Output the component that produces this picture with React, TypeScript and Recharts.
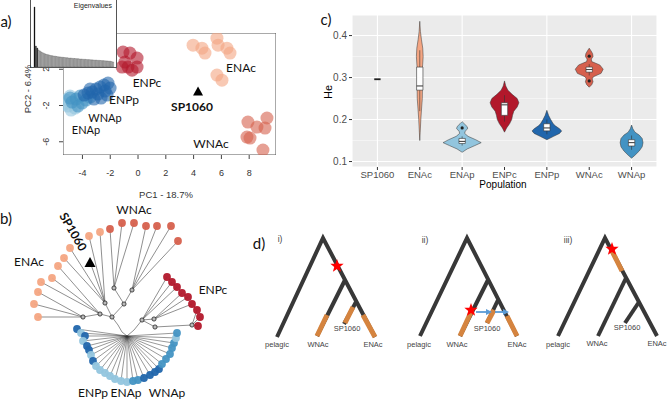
import React from "react";
import { Bar, BarChart, CartesianGrid, Cell, Scatter, ScatterChart, XAxis, YAxis } from "recharts";

type Pt = { x: number; y: number };
const pts = (a: number[][]): Pt[] => a.map(([x, y]) => ({ x, y }));

/* ---------- a) PCA ---------- */
const pcaEnac = [[3.96, 4.66], [4.6, 4.33], [4.82, 3.78], [5.68, 5.43], [5.76, 4.66], [6.4, 4.33], [6.62, 3.78], [5.68, 1.36], [6.04, 0.8]];
const pcaWnac = [[7.91, -3.83], [8.56, -4.38], [9.28, -3.38], [9.14, -4.49], [7.84, -5.48], [8.06, -5.59], [8.99, -6.91]];
const pcaEnpc = [[-1.08, 3.89], [-0.58, 3.78], [-0.07, 3.23], [-0.94, 2.79], [-0.72, 2.24], [-0.07, 2.24], [-1.15, 2.24], [-0.43, 1.9]];
const pcaEnap = [[-5.18, -1.4], [-5.04, -2.06], [-4.82, -2.5], [-4.53, -2.28], [-5.32, -1.84], [-4.89, -0.96]];
const pcaWnap = [[-4.17, -0.96], [-4.46, -1.29], [-3.74, -1.4], [-4.75, -1.62], [-4.03, -1.73], [-4.32, -2.06], [-3.45, -1.07], [-4.89, -1.18]];
const pcaEnpp = [[-2.16, 0.47], [-2.45, 0.25], [-2.01, -0.08], [-2.73, 0.03], [-3.02, -0.19], [-2.37, -0.41], [-3.31, -0.52], [-2.88, -0.74], [-3.6, -0.63], [-3.88, -0.85], [-2.66, -1.18], [-3.17, -1.29], [-3.45, -0.19], [-2.23, -0.85]];
const pcaSp1060 = [[4.32, -0.4]];
const pc1Ticks = [-4, -2, 0, 2, 4, 6, 8];
const pc2Ticks = [-6, -4, -2, 0, 2];
const pc1Domain = [-5.4, 9.93];
const pc2Domain = [-7.46, 6.0];
const eigenvalues = [60, 21, 19, 17, 16, 15, 14.2, 13.6, 13, 12.6, 12.2, 11.8, 11.5, 11.2, 11, 10.8, 10.5, 10.3, 10.1, 10, 9.8, 9.6, 9.5, 9.3, 9.2, 9, 8.9, 8.8, 8.6, 8.5, 8.4, 8.3, 8.2, 8, 7.9, 7.8, 7.7, 7.6, 7.5, 7.4, 7.3, 7.2, 7.1, 7, 6.9, 6.8, 6.7, 6.6, 6.5, 6.4, 6.3, 6.2, 6.1, 6, 5.9, 5.7, 5.4, 5];

/* ---------- b) tree ---------- */
const treeRoot = [127, 336];
const leafEnac = [[38, 317], [34, 304], [38, 292], [41, 282], [52, 278], [58, 266], [64, 258], [70, 248], [89, 236], [100, 232]];
const leafWnac = [[110, 229], [122, 223], [134, 223], [146, 226], [157, 226], [171, 226], [178, 241]];
const leafEnpc = [[167, 277], [172, 282], [177, 287], [182, 293], [188, 297], [192, 304], [197, 310], [200, 317], [198, 326]];
const leafPelagic = [[77, 329], [81, 333], [85, 336], [83, 341], [87, 346], [89, 350], [91, 355], [93, 361], [96, 366], [100, 370], [105, 373], [110, 376], [115, 379], [121, 381], [127, 382], [133, 381], [138, 380], [144, 378], [150, 375], [155, 372], [159, 369], [162, 364], [166, 359], [170, 354], [172, 348], [174, 343], [176, 338], [177, 333]];
const pelagicGroup = ["d", "l", "d", "l", "d", "d", "l", "d", "l", "l", "l", "l", "l", "l", "l", "m", "m", "d", "d", "d", "d", "m", "m", "m", "m", "m", "l", "m"];
const treeNodes = [[83, 317], [100, 314], [105, 303], [112, 317], [124, 304], [114, 288], [132, 290], [142, 320], [154, 319], [155, 327], [192, 325]];
const treeInner = [
  [[127, 336], [122, 332], [118, 325], [112, 317]],
  [[112, 317], [100, 314]],
  [[100, 314], [83, 317]],
  [[112, 317], [105, 303]],
  [[112, 317], [124, 304]],
  [[124, 304], [114, 288]],
  [[124, 304], [132, 290]],
  [[127, 336], [134, 330], [142, 320]],
  [[142, 320], [154, 319]],
  [[142, 320], [155, 327]],
  [[155, 327], [192, 325]],
];
const enacParent = [0, 0, 0, 1, 1, 1, 2, 2, 2, 2];
const wnacParent = [5, 5, 5, 6, 6, 6, 6];
const enpcParent = [7, 7, 7, 8, 8, 8, 10, 10, 10];
const treeSp1060 = [[90, 262]];

/* ---------- c) violins ---------- */
const populations = ["SP1060", "ENAc", "ENAp", "ENPc", "ENPp", "WNAc", "WNAp"];
const heTicks = [0.1, 0.2, 0.3, 0.4];
const heMinor = [0.15, 0.25, 0.35];
const enacHe = [0.15, 0.17, 0.2, 0.23, 0.25, 0.27, 0.29, 0.31, 0.33, 0.35, 0.37, 0.39, 0.41, 0.434];
const enacW = [0, 0.01, 0.025, 0.045, 0.06, 0.062, 0.05, 0.048, 0.068, 0.08, 0.07, 0.04, 0.015, 0];
const enapHe = [0.122, 0.13, 0.138, 0.145, 0.152, 0.16, 0.167, 0.172, 0.178, 0.183, 0.19, 0.195];
const enapW = [0, 0.12, 0.3, 0.45, 0.32, 0.14, 0.06, 0.07, 0.13, 0.12, 0.05, 0];
const enpcHe = [0.17, 0.18, 0.19, 0.2, 0.21, 0.22, 0.23, 0.24, 0.25, 0.26, 0.27, 0.28, 0.292];
const enpcW = [0, 0.05, 0.12, 0.17, 0.19, 0.22, 0.3, 0.34, 0.3, 0.18, 0.08, 0.03, 0];
const enppHe = [0.152, 0.16, 0.167, 0.173, 0.178, 0.185, 0.19, 0.2, 0.21, 0.222];
const enppW = [0, 0.16, 0.3, 0.35, 0.3, 0.2, 0.15, 0.09, 0.04, 0];
const wnacHe = [0.277, 0.283, 0.29, 0.297, 0.302, 0.31, 0.32, 0.33, 0.338, 0.344, 0.35, 0.357, 0.364, 0.37];
const wnacW = [0, 0.06, 0.09, 0.07, 0.1, 0.28, 0.33, 0.25, 0.06, 0.05, 0.09, 0.08, 0.04, 0];
const wnapHe = [0.108, 0.115, 0.125, 0.135, 0.145, 0.155, 0.163, 0.17, 0.178, 0.187];
const wnapW = [0, 0.08, 0.18, 0.25, 0.27, 0.25, 0.18, 0.08, 0.03, 0];
const boxQ1 = [0.296, 0.27, 0.143, 0.21, 0.173, 0.313, 0.137];
const boxMedian = [0.296, 0.28, 0.148, 0.235, 0.18, 0.319, 0.145];
const boxQ3 = [0.296, 0.325, 0.155, 0.24, 0.19, 0.325, 0.152];
const whiskerLo = [0.296, 0.22, 0.138, 0.195, 0.165, 0.305, 0.128];
const whiskerHi = [0.296, 0.365, 0.16, 0.258, 0.2, 0.332, 0.162];
const heOutliers = [[3, 0.18], [6, 0.351], [6, 0.292]];

/* ---------- d) scenarios ---------- */
const cladeDark = [
  [[277, 337], [323, 238], [375, 337]], [[345, 280], [317, 336]], [[356, 302], [344, 324]],
  [[420, 336], [467, 238], [517, 336]], [[488, 280], [460, 336]], [[498, 300], [487, 323]],
  [[558, 336], [605, 238], [657, 336]], [[626, 278], [598, 336]], [[639, 302], [625, 323]],
];
const cladeOrange = [
  [[327, 315], [317, 336]], [[353, 307], [345, 323]], [[363, 315], [375, 337]],
  [[472, 310], [460, 336]], [[494, 310], [487, 323]], [[507, 316], [517, 336]],
  [[612, 251], [622, 271]],
];
const cladeStars = [[337, 266], [471, 310], [612, 249]];
const migrationArrows = [[[476, 312], [489, 312]], [[495, 312], [506, 312]]];

const RED = "#b2182b", DARKBLUE = "#2166ac", MIDBLUE = "#4393c3", LIGHTBLUE = "#92c5de";
const LIGHTORANGE = "#f4a582", ORANGERED = "#d6604d";
const pelagicColor: Record<string, string> = { d: DARKBLUE, m: MIDBLUE, l: LIGHTBLUE };

const noDot = () => <g />;

function polylines(lines: number[][][], stroke: string, width: number, key: string, fill = "none") {
  return lines.map((l, i) => (
    <Scatter
      key={key + i}
      data={pts(l)}
      line={{ stroke, strokeWidth: width, fill }}
      shape={noDot}
      isAnimationActive={false}
    />
  ));
}

const circleShape = (r: number, fill: string, opacity: number) => (p: any) => (
  <circle cx={p.cx} cy={p.cy} r={r} fill={fill} fillOpacity={opacity} />
);

const triangleShape = (w: number, h: number) => (p: any) => (
  <polygon
    points={`${p.cx - w / 2},${p.cy + h / 2} ${p.cx + w / 2},${p.cy + h / 2} ${p.cx},${p.cy - h / 2}`}
    fill="#000"
  />
);

const starShape = (p: any) => {
  const c: string[] = [];
  for (let k = 0; k < 10; k++) {
    const r = k % 2 ? 2.9 : 7;
    const a = -Math.PI / 2 + (k * Math.PI) / 5;
    c.push(`${p.cx + r * Math.cos(a)},${p.cy + r * Math.sin(a)}`);
  }
  return <polygon points={c.join(" ")} fill="#ff0000" />;
};

const arrowHead = (p: any) => (
  <polygon points={`${p.cx + 3},${p.cy} ${p.cx - 3},${p.cy - 3} ${p.cx - 3},${p.cy + 3}`} fill="#5b9bd5" />
);

function Txt(props: {
  x: number; y: number; children: React.ReactNode; size?: number; color?: string;
  font?: string; weight?: number; rotate?: number;
}) {
  const { x, y, children, size = 12, color = "#111", font = "Lato", weight = 400, rotate = 0 } = props;
  return (
    <div
      style={{
        position: "absolute", left: x, top: y, transform: `translate(-50%, -50%) rotate(${rotate}deg)`,
        fontSize: size, color, fontFamily: font, fontWeight: weight, whiteSpace: "nowrap", lineHeight: 1,
      }}
    >
      {children}
    </div>
  );
}

function violinOutline(center: number, he: number[], w: number[]): Pt[] {
  const right = he.map((h, i) => ({ x: center + w[i], y: h }));
  const left = he.map((h, i) => ({ x: center - w[i], y: h })).reverse();
  return [...right, ...left];
}

const violins = [
  { center: 2, he: enacHe, w: enacW, fill: LIGHTORANGE },
  { center: 3, he: enapHe, w: enapW, fill: LIGHTBLUE },
  { center: 4, he: enpcHe, w: enpcW, fill: RED },
  { center: 5, he: enppHe, w: enppW, fill: DARKBLUE },
  { center: 6, he: wnacHe, w: wnacW, fill: ORANGERED },
  { center: 7, he: wnapHe, w: wnapW, fill: MIDBLUE },
];

const PcaYTick = ({ x, y, payload }: any) => {
  const bx = x - 7.5;
  return (
    <text x={bx} y={y} transform={`rotate(-90 ${bx} ${y})`} textAnchor="middle" fontSize={9}
      fill="#333" fontFamily="Liberation Sans">
      {payload.value === -4 ? "" : payload.value}
    </text>
  );
};

function PanelA() {
  const box = [
    [pc1Domain[0], pc2Domain[1]], [pc1Domain[1], pc2Domain[1]], [pc1Domain[1], pc2Domain[0]],
    [pc1Domain[0], pc2Domain[0]], [pc1Domain[0], pc2Domain[1]],
  ];
  const groups: [number[][], string][] = [
    [pcaEnap, LIGHTBLUE], [pcaWnap, MIDBLUE], [pcaEnpp, DARKBLUE],
    [pcaEnpc, RED], [pcaEnac, LIGHTORANGE], [pcaWnac, ORANGERED],
  ];
  return (
    <div style={{ position: "absolute", left: 0, top: 0 }}>
      <ScatterChart width={290} height={200} margin={{ top: 33, right: 14, bottom: 15, left: 38 }}>
        <XAxis type="number" dataKey="x" domain={pc1Domain} ticks={pc1Ticks} allowDataOverflow
          height={30} tickSize={4} tickMargin={11} axisLine={false} tickLine={{ stroke: "#444" }}
          tick={{ fontSize: 9, fill: "#333", fontFamily: "Liberation Sans" }} />
        <YAxis type="number" dataKey="y" domain={pc2Domain} ticks={pc2Ticks} allowDataOverflow
          width={25} tickSize={4} tickMargin={2} axisLine={false} tickLine={{ stroke: "#444" }}
          tick={<PcaYTick />} />
        {polylines([box], "#555", 1, "box")}
        {groups.map(([g, c], i) => (
          <Scatter key={"g" + i} data={pts(g)} shape={circleShape(6.5, c, 0.6)} isAnimationActive={false} />
        ))}
        <Scatter data={pts(pcaSp1060)} shape={triangleShape(10, 9)} isAnimationActive={false} />
      </ScatterChart>
    </div>
  );
}

function Inset() {
  const data = eigenvalues.map((v, i) => ({ k: i + 1, v }));
  return (
    <div style={{ position: "absolute", left: 30, top: -1, width: 87, height: 69, border: "1px solid #555",
      background: "#fff", boxSizing: "border-box" }}>
      <BarChart width={85} height={67} data={data} barCategoryGap={0}
        margin={{ top: 7, right: 2, bottom: 0, left: 3 }}>
        <XAxis dataKey="k" hide />
        <YAxis domain={[0, 60]} hide />
        <Bar dataKey="v" stroke="#333" strokeWidth={0.35} isAnimationActive={false}>
          {data.map((d, i) => (
            <Cell key={d.k} fill={i < 3 ? "#000" : "#cfcfcf"} />
          ))}
        </Bar>
      </BarChart>
      <div style={{ position: "absolute", right: 4, top: 2, fontSize: 7, fontFamily: "Liberation Sans", color: "#222" }}>
        Eigenvalues
      </div>
    </div>
  );
}

function PanelB() {
  const [rx, ry] = treeRoot;
  const leafLines = [
    ...leafEnac.map((l, i) => [l, treeNodes[enacParent[i]]]),
    ...leafWnac.map((l, i) => [l, treeNodes[wnacParent[i]]]),
    ...leafEnpc.map((l, i) => [l, treeNodes[enpcParent[i]]]),
    [treeSp1060[0], treeNodes[2]],
  ];
  const fan = leafPelagic.map((l) => [l, [rx, ry]]);
  return (
    <div style={{ position: "absolute", left: 0, top: 195 }}>
      <ScatterChart width={235} height={209} margin={{ top: 0, right: 0, bottom: 0, left: 0 }}>
        <XAxis type="number" dataKey="x" domain={[0, 235]} allowDataOverflow hide />
        <YAxis type="number" dataKey="y" domain={[195, 404]} allowDataOverflow reversed hide />
        {polylines(fan, "#333", 0.5, "fan")}
        {polylines(leafLines, "#444", 0.6, "leaf")}
        {polylines(treeInner, "#444", 0.6, "inner")}
        <Scatter data={pts(treeNodes)} isAnimationActive={false}
          shape={(p: any) => <circle cx={p.cx} cy={p.cy} r={2.1} fill="#bbb" stroke="#222" strokeWidth={0.8} />} />
        <Scatter data={pts(leafEnac)} shape={circleShape(3.9, LIGHTORANGE, 0.95)} isAnimationActive={false} />
        <Scatter data={pts(leafWnac)} shape={circleShape(3.9, ORANGERED, 0.95)} isAnimationActive={false} />
        <Scatter data={pts(leafEnpc)} shape={circleShape(3.9, RED, 0.95)} isAnimationActive={false} />
        {leafPelagic.map((l, i) => (
          <Scatter key={"p" + i} data={pts([l])} shape={circleShape(3.9, pelagicColor[pelagicGroup[i]], 0.95)}
            isAnimationActive={false} />
        ))}
        <Scatter data={pts(treeSp1060)} shape={triangleShape(11, 10)} isAnimationActive={false} />
      </ScatterChart>
    </div>
  );
}

function PanelC() {
  const boxes = boxQ1.map((q1, i) => {
    const c = i + 1, h = 0.075;
    return [[c - h, q1], [c + h, q1], [c + h, boxQ3[i]], [c - h, boxQ3[i]], [c - h, q1]];
  });
  const whiskers = whiskerLo.flatMap((lo, i) => [
    [[i + 1, lo], [i + 1, boxQ1[i]]],
    [[i + 1, boxQ3[i]], [i + 1, whiskerHi[i]]],
  ]);
  const medians = boxMedian.map((m, i) => [[i + 1 - 0.075, m], [i + 1 + 0.075, m]]);
  return (
    <div style={{ position: "absolute", left: 300, top: 0 }}>
      <ScatterChart width={367} height={200} margin={{ top: 15, right: 10, bottom: 13, left: 22 }}>
        <CartesianGrid fill="#ebebeb" stroke="#fff" strokeWidth={1.1} />
        <CartesianGrid horizontalValues={heMinor} vertical={false} stroke="#fff" strokeWidth={0.5} fill="none" />
        <XAxis type="number" dataKey="x" domain={[0.4, 7.6]} ticks={[1, 2, 3, 4, 5, 6, 7]} allowDataOverflow
          height={20} tickSize={3} tickMargin={1} axisLine={false} tickLine={{ stroke: "#333" }}
          tickFormatter={(v: number) => populations[v - 1]}
          tick={{ fontSize: 9.5, fill: "#4d4d4d", fontFamily: "Liberation Sans" }} />
        <YAxis type="number" dataKey="y" domain={[0.087, 0.449]} ticks={heTicks} allowDataOverflow
          width={30} tickSize={3} tickMargin={2} axisLine={false} tickLine={{ stroke: "#333" }}
          tick={{ fontSize: 10, fill: "#4d4d4d", fontFamily: "Liberation Sans" }} />
        {violins.map((v, i) => (
          <Scatter key={"v" + i} data={violinOutline(v.center, v.he, v.w)} shape={noDot}
            line={{ fill: v.fill, stroke: "#333", strokeWidth: 0.5 }} isAnimationActive={false} />
        ))}
        {polylines(whiskers.slice(2), "#333", 0.6, "wh")}
        {polylines(boxes.slice(1), "#333", 0.6, "bx", "#fff")}
        {polylines(medians.slice(1), "#333", 1, "md")}
        {polylines(medians.slice(0, 1), "#222", 1.8, "sp")}
        <Scatter data={pts(heOutliers)} shape={circleShape(1.6, "#222", 1)} isAnimationActive={false} />
      </ScatterChart>
    </div>
  );
}

function PanelD() {
  return (
    <div style={{ position: "absolute", left: 250, top: 220 }}>
      <ScatterChart width={417} height={140} margin={{ top: 0, right: 0, bottom: 0, left: 0 }}>
        <XAxis type="number" dataKey="x" domain={[250, 667]} allowDataOverflow hide />
        <YAxis type="number" dataKey="y" domain={[220, 360]} allowDataOverflow reversed hide />
        {polylines(cladeDark, "#383838", 4, "dk")}
        {polylines(cladeOrange, "#d5843f", 5, "or")}
        {polylines(migrationArrows, "#5b9bd5", 1.8, "ar")}
        <Scatter data={pts(migrationArrows.map((a) => a[1]))} shape={arrowHead} isAnimationActive={false} />
        <Scatter data={pts(cladeStars)} shape={starShape} isAnimationActive={false} />
      </ScatterChart>
    </div>
  );
}

const dLabels: [string, number, number][] = [
  ["pelagic", 277, 345], ["WNAc", 318, 345], ["SP1060", 347, 329], ["ENAc", 373, 345],
  ["pelagic", 419, 345], ["WNAc", 457, 345], ["SP1060", 487, 329], ["ENAc", 517, 345],
  ["pelagic", 558, 345], ["WNAc", 597, 344], ["SP1060", 627, 328], ["ENAc", 657, 344],
];

export default function App() {
  return (
    <div style={{ position: "absolute", left: 0, top: 0, width: 667, height: 404, background: "#fff", overflow: "hidden" }}>
      <PanelA />
      <Inset />
      <PanelB />
      <PanelC />
      <PanelD />

      <Txt x={6} y={21} size={15}>a)</Txt>
      <Txt x={6} y={218} size={15}>b)</Txt>
      <Txt x={326} y={19} size={15}>c)</Txt>
      <Txt x={259} y={243} size={15}>d)</Txt>

      <Txt x={166} y={195} size={9.5} color="#333" font="Liberation Sans">PC1 - 18.7%</Txt>
      <Txt x={28} y={89} size={9.5} color="#333" font="Liberation Sans" rotate={-90}>PC2 - 6.4%</Txt>
      <Txt x={241} y={68}>ENAc</Txt>
      <Txt x={147} y={83}>ENPc</Txt>
      <Txt x={124} y={100}>ENPp</Txt>
      <Txt x={105} y={116.5} size={11}>WNAp</Txt>
      <Txt x={86} y={129} size={11}>ENAp</Txt>
      <Txt x={192} y={107} weight={700}>SP1060</Txt>
      <Txt x={211} y={144}>WNAc</Txt>

      <Txt x={29} y={262}>ENAc</Txt>
      <Txt x={134} y={210}>WNAc</Txt>
      <Txt x={213} y={290}>ENPc</Txt>
      <Txt x={93} y={393}>ENPp</Txt>
      <Txt x={126} y={393}>ENAp</Txt>
      <Txt x={167} y={393}>WNAp</Txt>
      <Txt x={72.5} y={231.5} weight={700} rotate={60}>SP1060</Txt>

      <Txt x={328} y={92} size={11} color="#000" font="Liberation Sans" rotate={-90}>He</Txt>
      <Txt x={503} y={185} size={10} color="#000" font="Liberation Sans">Population</Txt>

      <Txt x={280} y={239} size={8.5} color="#444" font="Liberation Sans">i)</Txt>
      <Txt x={425} y={240} size={8.5} color="#444" font="Liberation Sans">ii)</Txt>
      <Txt x={568} y={240} size={8.5} color="#444" font="Liberation Sans">iii)</Txt>
      {dLabels.map(([t, x, y], i) => (
        <Txt key={"d" + i} x={x} y={y} size={7.5} color="#444" font="Liberation Sans">{t}</Txt>
      ))}
    </div>
  );
}
